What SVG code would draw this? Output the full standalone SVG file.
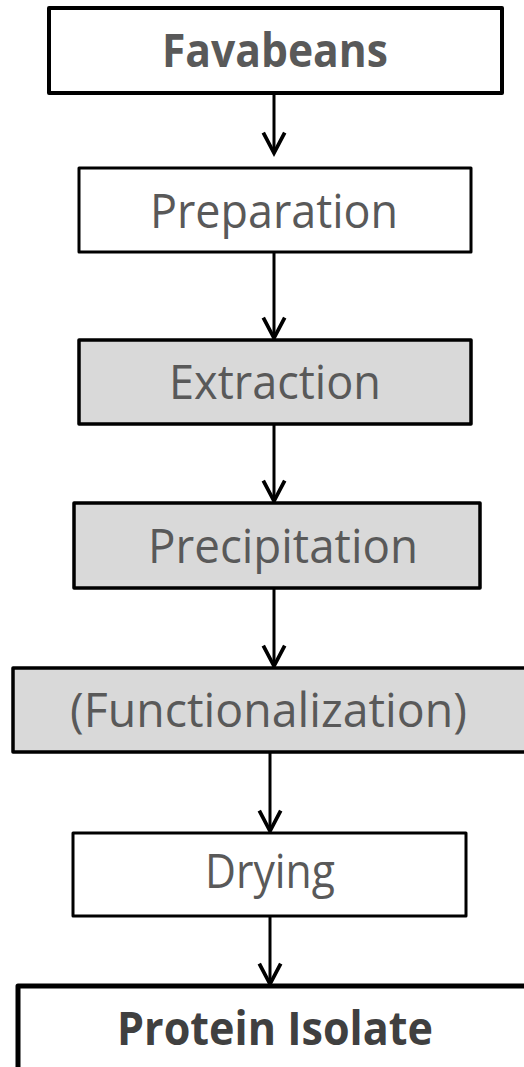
<svg xmlns="http://www.w3.org/2000/svg" width="524" height="1067" viewBox="0 0 524 1067">
<defs>
<style>
.box{stroke:#000;stroke-linejoin:round}
.w{fill:#fff}
.g{fill:#d9d9d9}
.t{font-family:"Open Sans","Noto Sans","Liberation Sans",sans-serif;font-size:47px;fill:#595959;text-anchor:middle}
.b{font-weight:bold}
.conn line{stroke:#000;stroke-width:3}
</style>
<marker id="arr" markerUnits="userSpaceOnUse" markerWidth="30" markerHeight="30" viewBox="-22 -14 26 28" refX="0" refY="0" orient="auto" overflow="visible">
<path d="M-19,-10 L0,0 L-19,10" fill="none" stroke="#000" stroke-width="3.5" stroke-linejoin="miter"/>
</marker>
</defs>
<rect width="524" height="1067" fill="#fff"/>
<g class="conn">
<line x1="274" y1="93" x2="274" y2="153" marker-end="url(#arr)"/>
<line x1="274" y1="252" x2="274" y2="338" marker-end="url(#arr)"/>
<line x1="274" y1="424" x2="274" y2="501" marker-end="url(#arr)"/>
<line x1="274" y1="588" x2="274" y2="666" marker-end="url(#arr)"/>
<line x1="270" y1="752" x2="270" y2="831" marker-end="url(#arr)"/>
<line x1="270" y1="916" x2="270" y2="984" marker-end="url(#arr)"/>
</g>
<g id="favabeans">
<rect class="box w" x="49" y="8" width="453" height="85" stroke-width="4"/>
<text class="t b" x="275" y="67" textLength="226" lengthAdjust="spacingAndGlyphs">Favabeans</text>
</g>
<g id="preparation">
<rect class="box w" x="79" y="168" width="392" height="84" stroke-width="3"/>
<text class="t" x="274" y="228" textLength="248" lengthAdjust="spacingAndGlyphs">Preparation</text>
</g>
<g id="extraction">
<rect class="box g" x="79" y="340" width="392" height="84" stroke-width="3.5"/>
<text class="t" x="275" y="399" textLength="212" lengthAdjust="spacingAndGlyphs">Extraction</text>
</g>
<g id="precipitation">
<rect class="box g" x="74" y="503" width="406" height="85" stroke-width="3.5"/>
<text class="t" x="283" y="563" textLength="270" lengthAdjust="spacingAndGlyphs">Precipitation</text>
</g>
<g id="functionalization">
<rect class="box g" x="13" y="668" width="530" height="84" stroke-width="3.5"/>
<text class="t" x="268.5" y="727" textLength="397" lengthAdjust="spacingAndGlyphs">(Functionalization)</text>
</g>
<g id="drying">
<rect class="box w" x="73" y="833" width="393" height="83" stroke-width="3"/>
<text class="t" x="270" y="888" textLength="130" lengthAdjust="spacingAndGlyphs">Drying</text>
</g>
<g id="protein-isolate">
<rect class="box w" x="18" y="986" width="530" height="100" stroke-width="5"/>
<text class="t b" x="275" y="1045" textLength="316" lengthAdjust="spacingAndGlyphs" style="fill:#404040">Protein Isolate</text>
</g>
</svg>
